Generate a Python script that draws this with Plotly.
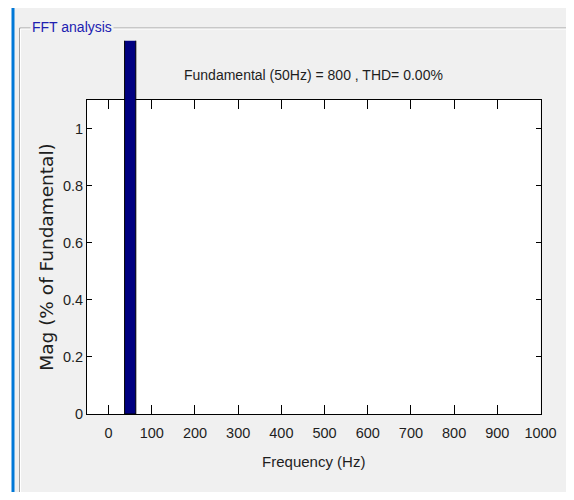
import plotly.graph_objects as go

# ---- data ----
freqs_hz = [50]                 # harmonic frequencies present
mag_pct = [100]                 # magnitude, % of fundamental
x_ticks = [0, 100, 200, 300, 400, 500, 600, 700, 800, 900, 1000]
y_ticks = [0, 0.2, 0.4, 0.6, 0.8, 1]
y_tick_text = ["0", "0.2", "0.4", "0.6", "0.8", "1"]
title_text = "Fundamental (50Hz) = 800 , THD= 0.00%"
panel_text = "FFT analysis"

# page is 574x500; the default body margin of 8px surrounds the figure
PAGE_W, PAGE_H, M = 574, 500, 8
W, H = PAGE_W - 2 * M, PAGE_H - 2 * M
SANS = "Liberation Sans, Arial, sans-serif"
BG = "#f0f0f0"
TXT = "#1e1e1e"

# plot area (page pixels)
L, R, T, B = 87, 540.5, 100, 414
bar_top = 40.7
y_range = [0, 1.1]
px_per_unit = (B - T) / (y_range[1] - y_range[0])
y2_top = (B - bar_top) / px_per_unit

def px(x):
    return (x - M) / W

def py(y):
    return 1 - (y - M) / H

fig = go.Figure()
fig.add_trace(go.Bar(
    x=freqs_hz, y=mag_pct, width=[26],
    marker=dict(color="#000080", line=dict(color="#000000", width=1)),
    xaxis="x2", yaxis="y2", showlegend=False, hoverinfo="skip",
))
# invisible trace so the main axes are drawn
fig.add_trace(go.Scatter(x=[None], y=[None], xaxis="x", yaxis="y",
                         showlegend=False, hoverinfo="skip"))

axis_common = dict(showline=True, linecolor="#000000", linewidth=1, mirror="ticks",
                   ticks="inside", tickcolor="#000000", tickwidth=1,
                   showgrid=False, zeroline=False, automargin=False,
                   tickfont=dict(family=SANS, size=14.5, color=TXT))

fig.update_layout(
    width=W, height=H, autosize=False,
    margin=dict(l=0, r=0, t=0, b=0),
    paper_bgcolor=BG, plot_bgcolor="rgba(0,0,0,0)",
    xaxis=dict(domain=[px(L), px(R)], range=[-50, 1000], tickmode="array",
               tickvals=x_ticks, ticklen=9, ticklabelstandoff=6,
               title=dict(text="Frequency (Hz)", standoff=16,
                          font=dict(family=SANS, size=15, color=TXT)),
               **axis_common),
    yaxis=dict(domain=[py(B), py(T)], range=y_range, tickmode="array",
               tickvals=y_ticks, ticktext=y_tick_text, ticklen=5, ticklabelstandoff=0,
               title=dict(text="Mag (% of Fundamental)", standoff=4,
                          font=dict(family="DejaVu Sans", size=18.5, color=TXT)),
               **axis_common),
    xaxis2=dict(domain=[px(L), px(R)], range=[-50, 1000], visible=False,
                anchor="y2", matches="x", automargin=False),
    yaxis2=dict(domain=[py(B), py(bar_top)], range=[0, y2_top], visible=False,
                anchor="x2", automargin=False),
)

shapes = []
# white plot background
shapes.append(dict(type="rect", xref="x domain", yref="y domain", x0=0, x1=1, y0=0, y1=1,
                   fillcolor="#ffffff", line=dict(width=0), layer="below"))
# window outside area (white) and blue border
shapes.append(dict(type="rect", xref="paper", yref="paper", x0=0, x1=px(12), y0=0, y1=1,
                   fillcolor="#ffffff", line=dict(width=0), layer="below"))
shapes.append(dict(type="line", xref="paper", yref="paper", x0=px(13), x1=px(13), y0=1, y1=0,
                   line=dict(color="#0078d7", width=3)))
# group box (etched)
gb_l, gb_r, gb_t = 19.5, 568.5, 28
shapes.append(dict(type="line", xref="paper", yref="paper", x0=px(gb_l), x1=px(gb_r), y0=py(gb_t), y1=py(gb_t),
                   line=dict(color="#a0a0a0", width=1)))
shapes.append(dict(type="line", xref="paper", yref="paper", x0=px(gb_l + 1), x1=px(gb_r - 1), y0=py(gb_t + 1), y1=py(gb_t + 1),
                   line=dict(color="#ffffff", width=1)))
shapes.append(dict(type="line", xref="paper", yref="paper", x0=px(gb_l), x1=px(gb_l), y0=py(gb_t), y1=0,
                   line=dict(color="#a0a0a0", width=1)))
shapes.append(dict(type="line", xref="paper", yref="paper", x0=px(gb_l + 1), x1=px(gb_l + 1), y0=py(gb_t + 1), y1=0,
                   line=dict(color="#ffffff", width=1)))
shapes.append(dict(type="line", xref="paper", yref="paper", x0=px(gb_r), x1=px(gb_r), y0=py(gb_t), y1=0,
                   line=dict(color="#a0a0a0", width=1)))
fig.update_layout(shapes=shapes)

fig.add_annotation(xref="paper", yref="paper", x=px(30), y=py(27), xanchor="left", yanchor="middle",
                   text=panel_text, showarrow=False, bgcolor=BG, borderpad=1,
                   font=dict(family=SANS, size=14, color="#2020b0"))
fig.add_annotation(xref="paper", yref="paper", x=px((L + R) / 2), y=py(75), xanchor="center",
                   yanchor="middle", text=title_text, showarrow=False,
                   font=dict(family=SANS, size=14, color=TXT))

fig.write_html("out.html", config={"displayModeBar": False})
